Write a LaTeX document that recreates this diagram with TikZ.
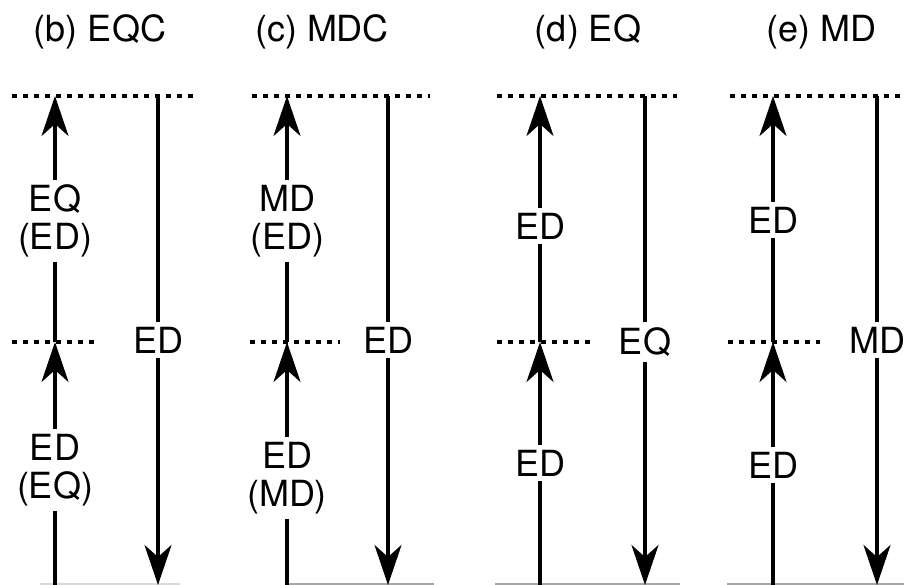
\documentclass[tikz,border=0pt]{standalone}
\usepackage{fontspec}
\setmainfont{TeX Gyre Heros}
\usetikzlibrary{arrows.meta}
\begin{document}
\begin{tikzpicture}[x=1pt,y=-1pt,
  level/.style={line width=4pt, dash pattern=on 4.5pt off 6.5pt},
  flow/.style={line width=3.5pt},
  up/.style={flow, -{Stealth[length=40pt,width=27pt,inset=12pt]}},
  ground/.style={line width=1.5pt, black!35},
  lbl/.style={font=\fontsize{36}{38}\selectfont, align=center, inner sep=5pt},
  title/.style={font=\fontsize{36}{40}\selectfont, inner sep=0pt}]
\useasboundingbox (0,0) rectangle (904,585);

% ---------- (b) EQC ----------
\node[title] (tb) at (100,32) {(b) EQC};
\coordinate (b-t1) at (12,96);  \coordinate (b-t2) at (195,96);
\coordinate (b-m1) at (12,342); \coordinate (b-m2) at (100,342);
\coordinate (b-top) at (55,96); \coordinate (b-mid) at (55,342); \coordinate (b-bot) at (55,586);
\coordinate (b-rtop) at (158,96); \coordinate (b-rbot) at (158,585);
\draw[level] (b-t1) -- (b-t2);
\draw[level] (b-m1) -- (b-m2);
\draw[ground, black!15] (40,584) -- (180,584);
\node[lbl] (b-u) at (55,221) {EQ\\(ED)};
\node[lbl] (b-l) at (55,470) {ED\\(EQ)};
\node[lbl] (b-r) at (158,340) {ED};
\draw[flow] (b-bot) -- (b-l.south);
\draw[up] (b-l.north) -- (b-mid);
\draw[flow] (b-mid) -- (b-u.south);
\draw[up] (b-u.north) -- (b-top);
\draw[flow] (b-rtop) -- (b-r.north);
\draw[up] (b-r.south) -- (b-rbot);

% ---------- (c) MDC ----------
\node[title] (tc) at (322,32) {(c) MDC};
\coordinate (c-t1) at (252,96);  \coordinate (c-t2) at (430,96);
\coordinate (c-m1) at (250,342); \coordinate (c-m2) at (340,342);
\coordinate (c-top) at (287,96); \coordinate (c-mid) at (287,342); \coordinate (c-bot) at (287,586);
\coordinate (c-rtop) at (388,96); \coordinate (c-rbot) at (388,585);
\draw[level] (c-t1) -- (c-t2);
\draw[level] (c-m1) -- (c-m2);
\draw[ground] (287,584) -- (434,584);
\node[lbl] (c-u) at (287,221) {MD\\(ED)};
\node[lbl] (c-l) at (287,478) {ED\\(MD)};
\node[lbl] (c-r) at (388,340) {ED};
\draw[flow] (c-bot) -- (c-l.south);
\draw[up] (c-l.north) -- (c-mid);
\draw[flow] (c-mid) -- (c-u.south);
\draw[up] (c-u.north) -- (c-top);
\draw[flow] (c-rtop) -- (c-r.north);
\draw[up] (c-r.south) -- (c-rbot);

% ---------- (d) EQ ----------
\node[title] (td) at (588,32) {(d) EQ};
\coordinate (d-t1) at (497,96);  \coordinate (d-t2) at (677,96);
\coordinate (d-m1) at (497,342); \coordinate (d-m2) at (590,342);
\coordinate (d-top) at (540,96); \coordinate (d-mid) at (540,342); \coordinate (d-bot) at (540,586);
\coordinate (d-rtop) at (645,96); \coordinate (d-rbot) at (645,585);
\draw[level] (d-t1) -- (d-t2);
\draw[level] (d-m1) -- (d-m2);
\draw[ground] (495,584) -- (680,584);
\node[lbl] (d-u) at (540,226) {ED};
\node[lbl] (d-l) at (540,463) {ED};
\node[lbl] (d-r) at (645,342) {EQ};
\draw[flow] (d-bot) -- (d-l.south);
\draw[up] (d-l.north) -- (d-mid);
\draw[flow] (d-mid) -- (d-u.south);
\draw[up] (d-u.north) -- (d-top);
\draw[flow] (d-rtop) -- (d-r.north);
\draw[up] (d-r.south) -- (d-rbot);

% ---------- (e) MD ----------
\node[title] (te) at (821,32) {(e) MD};
\coordinate (e-t1) at (730,96);  \coordinate (e-t2) at (904,96);
\coordinate (e-m1) at (728,342); \coordinate (e-m2) at (820,342);
\coordinate (e-top) at (773,96); \coordinate (e-mid) at (773,342); \coordinate (e-bot) at (773,586);
\coordinate (e-rtop) at (877,96); \coordinate (e-rbot) at (877,585);
\draw[level] (e-t1) -- (e-t2);
\draw[level] (e-m1) -- (e-m2);
\draw[ground] (727,584) -- (904,584);
\node[lbl] (e-u) at (773,220) {ED};
\node[lbl] (e-l) at (773,465) {ED};
\node[lbl] (e-r) at (877,340) {MD};
\draw[flow] (e-bot) -- (e-l.south);
\draw[up] (e-l.north) -- (e-mid);
\draw[flow] (e-mid) -- (e-u.south);
\draw[up] (e-u.north) -- (e-top);
\draw[flow] (e-rtop) -- (e-r.north);
\draw[up] (e-r.south) -- (e-rbot);
\end{tikzpicture}
\end{document}
